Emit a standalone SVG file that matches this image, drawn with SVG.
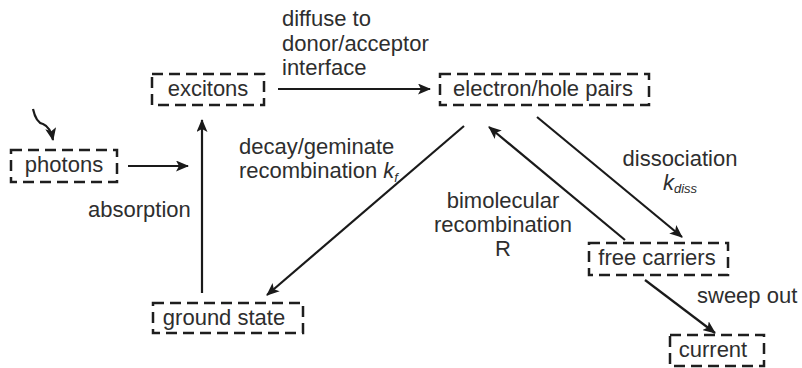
<svg xmlns="http://www.w3.org/2000/svg" width="802" height="368" viewBox="0 0 802 368">
  <style>
    .box { fill: none; stroke: #1e1e1e; stroke-width: 2.5; stroke-dasharray: 11 6; }
    .lbl { font-family: "Liberation Sans", Arial, sans-serif; font-size: 22px; fill: #2e2e2e; }
    .mid { text-anchor: middle; }
    .edge { fill: none; stroke: #1a1a1a; stroke-width: 2.2; marker-end: url(#head); }
    .it { font-style: italic; }
  </style>
  <defs>
    <marker id="head" viewBox="0 0 13 11" refX="12" refY="5.5" markerWidth="13" markerHeight="11" markerUnits="userSpaceOnUse" orient="auto">
      <path d="M0,0 L13,5.5 L0,11 L3,5.5 Z" fill="#1a1a1a"/>
    </marker>
  </defs>

  <rect width="802" height="368" fill="#fff"/>

  <g id="photons">
    <rect class="box" x="11" y="150" width="106" height="32"/>
    <text class="lbl mid" x="64" y="172">photons</text>
  </g>
  <g id="excitons">
    <rect class="box" x="152" y="74" width="112" height="31"/>
    <text class="lbl mid" x="208" y="96">excitons</text>
  </g>
  <g id="pairs">
    <rect class="box" x="440" y="74" width="209" height="31"/>
    <text class="lbl mid" x="543" y="96">electron/hole pairs</text>
  </g>
  <g id="ground">
    <rect class="box" x="153" y="303" width="150" height="30"/>
    <text class="lbl mid" x="224" y="325">ground state</text>
  </g>
  <g id="free">
    <rect class="box" x="589" y="243" width="139" height="32"/>
    <text class="lbl mid" x="657" y="265">free carriers</text>
  </g>
  <g id="current">
    <rect class="box" x="670" y="335" width="94" height="31"/>
    <text class="lbl mid" x="713" y="357">current</text>
  </g>

  <g id="connectors">
    <path class="edge" d="M33,109 C35,118 38,123 43,124 C48,126 51,130 53,140"/>
    <path class="edge" d="M128,166 L188,166"/>
    <path class="edge" d="M202,293 L202,120"/>
    <path class="edge" d="M278,89 L430,89"/>
    <path class="edge" d="M464,126 L267,295"/>
    <path class="edge" d="M537,117 L682,237"/>
    <path class="edge" d="M625,240 L489,127"/>
    <path class="edge" d="M645,280 L715,333"/>
  </g>

  <g id="labels">
    <text class="lbl" x="282" y="26">diffuse to</text>
    <text class="lbl" x="282" y="51">donor/acceptor</text>
    <text class="lbl" x="282" y="75">interface</text>
    <text class="lbl" x="239" y="154">decay/geminate</text>
    <text class="lbl" x="239" y="178">recombination <tspan class="it">k</tspan><tspan class="it" font-size="13" dy="4">f</tspan></text>
    <text class="lbl" x="88" y="217">absorption</text>
    <text class="lbl mid" x="680" y="166">dissociation</text>
    <text class="lbl" x="663" y="190"><tspan class="it">k</tspan><tspan class="it" font-size="13" dy="3">diss</tspan></text>
    <text class="lbl mid" x="503" y="208">bimolecular</text>
    <text class="lbl mid" x="503" y="232">recombination</text>
    <text class="lbl mid" x="503" y="256">R</text>
    <text class="lbl" x="697" y="303">sweep out</text>
  </g>
</svg>
